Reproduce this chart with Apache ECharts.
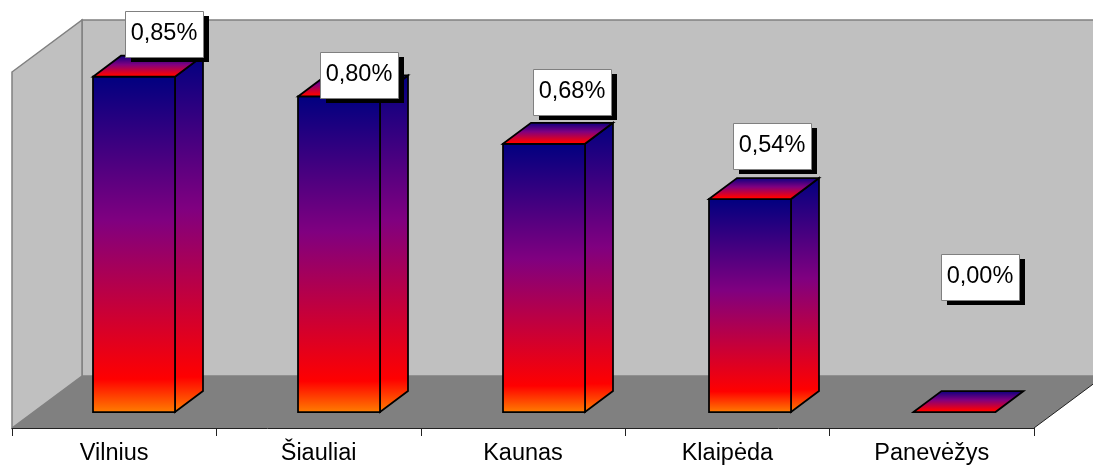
<!DOCTYPE html>
<html>
<head>
<meta charset="utf-8">
<style>html,body{margin:0;padding:0;background:#fff}#c{width:1093px;height:468px}</style>
<script src="https://cdn.jsdelivr.net/npm/echarts@6/dist/echarts.min.js"></script>
</head>
<body>
<div id="c"></div>
<script>
var categories = ['Vilnius', 'Šiauliai', 'Kaunas', 'Klaipėda', 'Panevėžys'];
var values = [0.85, 0.80, 0.68, 0.54, 0.00];
var labelTexts = ['0,85%', '0,80%', '0,68%', '0,54%', '0,00%'];
// hand-placed data label offsets, relative to the bar's top front centre
var labelDx = [30, 20.5, 28, 22, 25.5];
var labelDy = [-43, -21, -52, -53, -135];
// horizontal offset of each bar's front face from its category centre
var barInset = [19.8, 20.4, 21, 22.6, 22.7];

var FONT = '"Liberation Sans", Arial, sans-serif';
var wallDx = 70, wallDy = 52, wallTopExtra = 1;
var barDx = 28, barDy = 21;
var barW = 82, insetY = 16;
var boxW = 78, boxH = 46;

function grad(stops) {
  return new echarts.graphic.LinearGradient(0, 0, 0, 1, stops);
}
var faceStops = [
  {offset: 0, color: '#000080'},
  {offset: 0.43, color: '#800080'},
  {offset: 0.9, color: '#ff0000'},
  {offset: 1, color: '#ff8000'}
];
var topStops = [
  {offset: 0, color: '#000080'},
  {offset: 0.43, color: '#800080'},
  {offset: 0.9, color: '#ff0000'},
  {offset: 1, color: '#ff0000'}
];

function renderWalls(params) {
  var c = params.coordSys;
  var L = c.x, T = c.y - wallTopExtra, W = c.width, H = c.height, B = c.y + H, R = L + W;
  var edge = {stroke: '#808080', lineWidth: 1.5};
  return {type: 'group', children: [
    {type: 'polygon', shape: {points: [[L + wallDx, T - wallDy], [R + wallDx, T - wallDy], [R + wallDx, B - wallDy], [L + wallDx, B - wallDy]]},
      style: Object.assign({fill: '#c0c0c0'}, edge)},
    {type: 'polygon', shape: {points: [[L, T], [L + wallDx, T - wallDy], [L + wallDx, B - wallDy], [L, B]]},
      style: Object.assign({fill: '#c0c0c0'}, edge)},
    {type: 'polygon', shape: {points: [[L, B], [L + wallDx, B - wallDy], [R + wallDx, B - wallDy], [R, B]]},
      style: {fill: '#808080', stroke: 'none'}},
    {type: 'line', shape: {x1: R, y1: B, x2: R + wallDx, y2: B - wallDy}, style: {stroke: '#222', lineWidth: 1}}
  ]};
}

function renderBar(params, api) {
  var i = api.value(0);
  var top = api.coord([i, api.value(1)]);
  var base = api.coord([i, 0]);
  var cx = base[0] + barInset[i];
  var x0 = cx - barW / 2, x1 = cx + barW / 2;
  var yB = base[1] - insetY, yT = top[1] - insetY;
  var line = {stroke: '#000', lineWidth: 1.75, lineJoin: 'miter'};
  var children = [];
  if (yB - yT > 0.5) {
    children.push({type: 'polygon', shape: {points: [[x1, yT], [x1 + barDx, yT - barDy], [x1 + barDx, yB - barDy], [x1, yB]]},
      style: Object.assign({fill: grad(faceStops)}, line)});
    children.push({type: 'polygon', shape: {points: [[x0, yT], [x1, yT], [x1, yB], [x0, yB]]},
      style: Object.assign({fill: grad(faceStops)}, line)});
  }
  children.push({type: 'polygon', shape: {points: [[x0, yT], [x0 + barDx, yT - barDy], [x1 + barDx, yT - barDy], [x1, yT]]},
    style: Object.assign({fill: grad(topStops)}, line)});
  var bx = cx + labelDx[i] - boxW / 2, by = yT + labelDy[i] - boxH / 2;
  children.push({type: 'rect', shape: {x: Math.round(bx) + 6, y: Math.round(by) + 5, width: boxW, height: boxH},
    style: {fill: '#000', stroke: 'none'}});
  children.push({type: 'rect', shape: {x: Math.round(bx) + 0.5, y: Math.round(by) + 0.5, width: boxW, height: boxH},
    style: {fill: '#fff', stroke: '#808080', lineWidth: 1}});
  children.push({type: 'text', style: {x: Math.round(bx) + boxW / 2, y: Math.round(by) + boxH / 2 - 0.5, text: labelTexts[i],
    fill: '#000', font: '23.5px ' + FONT, align: 'center', verticalAlign: 'middle'}});
  return {type: 'group', children: children};
}

var chart = echarts.init(document.getElementById('c'), null, {renderer: 'canvas'});
chart.setOption({
  animation: false,
  backgroundColor: '#fff',
  grid: {left: 12, right: 59, top: 73, height: 355, containLabel: false},
  xAxis: {
    type: 'category', data: categories, boundaryGap: true,
    axisLine: {show: true, lineStyle: {color: '#222', width: 1}},
    axisTick: {show: true, alignWithLabel: false, length: 8, lineStyle: {color: '#222', width: 1}},
    axisLabel: {color: '#000', fontFamily: FONT, fontSize: 23.5, margin: 14, interval: 0},
    splitLine: {show: false}, z: 5
  },
  yAxis: {type: 'value', min: 0, max: 0.9, show: false, splitLine: {show: false}},
  series: [
    {type: 'custom', coordinateSystem: 'cartesian2d', clip: false, silent: true, z: 1,
      renderItem: renderWalls, data: [[0, 0]], encode: {x: 0, y: 1}},
    {type: 'custom', coordinateSystem: 'cartesian2d', clip: false, silent: true, z: 6,
      renderItem: renderBar,
      data: values.map(function (v, i) { return [i, v]; }), encode: {x: 0, y: 1}}
  ]
});
</script>
</body>
</html>
